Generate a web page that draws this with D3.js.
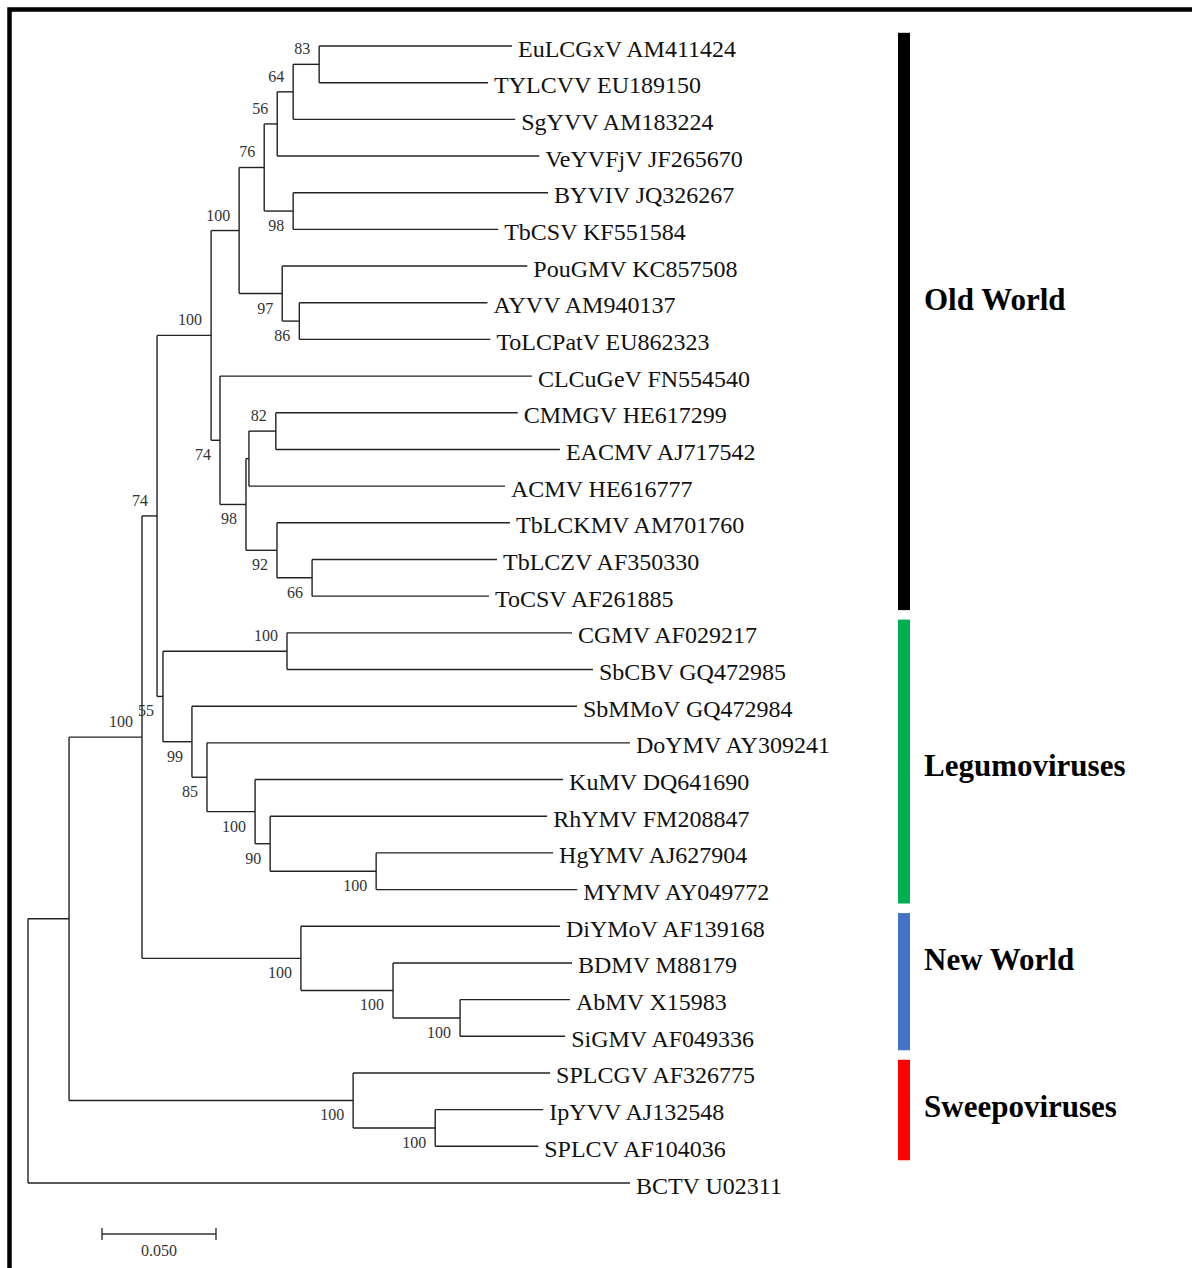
<!DOCTYPE html>
<html>
<head>
<meta charset="utf-8">
<script src="https://cdn.jsdelivr.net/npm/d3@7"></script>
<style>
  body { margin: 0; background: #fff; }
  svg { display: block; }
  text { font-family: "Liberation Serif", "Times New Roman", serif; }
</style>
</head>
<body>
<div id="tree"></div>
<script>
// Leaves, top to bottom as drawn
var leafNames = ["EuLCGxV AM411424", "TYLCVV EU189150", "SgYVV AM183224", "VeYVFjV JF265670",
  "BYVIV JQ326267", "TbCSV KF551584", "PouGMV KC857508", "AYVV AM940137", "ToLCPatV EU862323",
  "CLCuGeV FN554540", "CMMGV HE617299", "EACMV AJ717542", "ACMV HE616777", "TbLCKMV AM701760",
  "TbLCZV AF350330", "ToCSV AF261885", "CGMV AF029217", "SbCBV GQ472985", "SbMMoV GQ472984",
  "DoYMV AY309241", "KuMV DQ641690", "RhYMV FM208847", "HgYMV AJ627904", "MYMV AY049772",
  "DiYMoV AF139168", "BDMV M88179", "AbMV X15983", "SiGMV AF049336", "SPLCGV AF326775",
  "IpYVV AJ132548", "SPLCV AF104036", "BCTV U02311"];
var leafParent = ["n83", "n83", "n64", "n56", "n98a", "n98a", "n97", "n86", "n86",
  "n74a", "n82", "n82", "n82b", "n92", "n66", "n66", "n100c", "n100c", "n99",
  "n85", "n100d", "n90", "n100e", "n100e", "n100f", "n100g", "n100h", "n100h", "n100i",
  "n100j", "n100j", "root"];
var leafLength = [0.0846, 0.0741, 0.0974, 0.1149, 0.1118, 0.0899, 0.1075, 0.0825, 0.0838,
  0.1368, 0.1061, 0.1246, 0.1123, 0.1022, 0.0811, 0.0776, 0.1250, 0.1342, 0.1689,
  0.1855, 0.1351, 0.1215, 0.0776, 0.0882, 0.1136, 0.0785, 0.0482, 0.0461, 0.0864,
  0.0474, 0.0452, 0.2640];

// Internal nodes with branch length to parent and bootstrap support
var nodeIds = ["root", "n69", "n100k", "n74b", "n100b", "n100a", "n76", "n56", "n64", "n83", "n98a",
  "n97", "n86", "n74a", "n98b", "n82b", "n82", "n92", "n66", "n55", "n100c", "n99", "n85",
  "n100d", "n90", "n100e", "n100f", "n100g", "n100h", "n100i", "n100j"];
var nodeParent = ["", "root", "n69", "n100k", "n74b", "n100b", "n100a", "n76", "n56", "n64", "n76",
  "n100a", "n97", "n100b", "n74a", "n98b", "n82b", "n98b", "n92", "n74b", "n55", "n55", "n99",
  "n85", "n100d", "n90", "n100k", "n100f", "n100g", "n69", "n100i"];
var nodeLength = [0, 0.0180, 0.0320, 0.0066, 0.0237, 0.0123, 0.0110, 0.0057, 0.0070, 0.0114, 0.0127,
  0.0189, 0.0075, 0.0039, 0.0114, 0.0013, 0.0118, 0.0136, 0.0154, 0.0026, 0.0544, 0.0127, 0.0066,
  0.0211, 0.0066, 0.0465, 0.0697, 0.0404, 0.0294, 0.1246, 0.0360];
var nodeSupport = [null, null, 100, 74, 100, 100, 76, 56, 64, 83, 98,
  97, 86, 74, 98, null, 82, 92, 66, 55, 100, 99, 85,
  100, 90, 100, 100, 100, 100, 100, 100];

// Clade bars on the right
var groupNames = ["Old World", "Legumoviruses", "New World", "Sweepoviruses"];
var groupFirst = ["EuLCGxV AM411424", "CGMV AF029217", "DiYMoV AF139168", "SPLCGV AF326775"];
var groupLast = ["ToCSV AF261885", "MYMV AY049772", "SiGMV AF049336", "SPLCV AF104036"];
var groupLabelRow = [6.9, 19.6, 24.9, 28.9];
var groupColors = ["#000000", "#00b050", "#4472c4", "#ff0000"];

var scaleBarValue = 0.05;
var scaleBarLabel = "0.050";

var W = 1192, H = 1268;
var svg = d3.select("#tree").append("svg").attr("width", W).attr("height", H);

// frame (right and bottom edges fall outside the picture)
svg.append("rect")
  .attr("x", 9.5).attr("y", 9.5)
  .attr("width", W + 20).attr("height", H + 20)
  .attr("fill", "none").attr("stroke", "#000").attr("stroke-width", 4.5);

// build hierarchy
var rows = [];
nodeIds.forEach(function(id, i) {
  rows.push({ id: id, parent: nodeParent[i] || null, len: nodeLength[i], support: nodeSupport[i] });
});
leafNames.forEach(function(name, i) {
  rows.push({ id: name, parent: leafParent[i], len: leafLength[i], support: null });
});
var root = d3.stratify().id(function(d) { return d.id; }).parentId(function(d) { return d.parent; })(rows);

var xScale = d3.scaleLinear().domain([0, scaleBarValue]).range([28, 142]);
var yScale = d3.scalePoint().domain(leafNames).range([46, 1183]);
var step = yScale.step();

root.each(function(n) {
  n.dist = n.parent ? n.parent.dist + n.data.len : 0;
  n.px = xScale(n.dist);
});
root.eachAfter(function(n) {
  if (!n.children) { n.py = yScale(n.data.id); return; }
  var ys = n.children.map(function(c) { return c.py; });
  n.py = (d3.min(ys) + d3.max(ys)) / 2;
});

var branches = svg.append("g")
  .attr("fill", "none").attr("stroke", "#222").attr("stroke-width", 1.4);

// horizontal branches
branches.selectAll("path.h")
  .data(root.descendants().filter(function(n) { return n.parent; }))
  .enter().append("path")
  .attr("class", "h")
  .attr("d", function(n) { return "M" + n.parent.px + "," + n.py + "H" + n.px; });

// vertical connectors
branches.selectAll("path.v")
  .data(root.descendants().filter(function(n) { return n.children; }))
  .enter().append("path")
  .attr("class", "v")
  .attr("d", function(n) {
    var ys = n.children.map(function(c) { return c.py; });
    return "M" + n.px + "," + d3.min(ys) + "V" + d3.max(ys);
  });

// taxon labels
svg.append("g").selectAll("text")
  .data(root.leaves())
  .enter().append("text")
  .attr("x", function(n) { return n.px + 6; })
  .attr("y", function(n) { return n.py + 10.5; })
  .attr("font-size", 24)
  .attr("fill", "#111")
  .text(function(n) { return n.data.id; });

// bootstrap values
svg.append("g").selectAll("text")
  .data(root.descendants().filter(function(n) { return n.data.support != null && n.parent; }))
  .enter().append("text")
  .attr("x", function(n) { return n.px - 9; })
  .attr("y", function(n) { return n.py < n.parent.py ? n.py - 10 : n.py + 20; })
  .attr("text-anchor", "end")
  .attr("font-size", 16)
  .attr("fill", "#333")
  .text(function(n) { return n.data.support; });

// clade bars + names
var groups = svg.append("g").selectAll("g")
  .data(groupNames)
  .enter().append("g");
groups.append("rect")
  .attr("x", 898)
  .attr("width", 12)
  .attr("y", function(d, i) { return yScale(groupFirst[i]) - step * 0.36; })
  .attr("height", function(d, i) { return yScale(groupLast[i]) - yScale(groupFirst[i]) + step * 0.74; })
  .attr("fill", function(d, i) { return groupColors[i]; });
groups.append("text")
  .attr("x", 924)
  .attr("y", function(d, i) { return yScale.range()[0] + groupLabelRow[i] * step + 11; })
  .attr("font-size", 31)
  .attr("font-weight", "bold")
  .attr("fill", "#000")
  .text(function(d) { return d; });

// scale bar
var sb = svg.append("g").attr("stroke", "#333").attr("stroke-width", 1.4);
var sbX0 = 102, sbY = 1234;
var sbLen = xScale(scaleBarValue) - xScale(0);
sb.append("line").attr("x1", sbX0).attr("x2", sbX0 + sbLen).attr("y1", sbY).attr("y2", sbY);
sb.append("line").attr("x1", sbX0).attr("x2", sbX0).attr("y1", sbY - 6).attr("y2", sbY + 6);
sb.append("line").attr("x1", sbX0 + sbLen).attr("x2", sbX0 + sbLen).attr("y1", sbY - 6).attr("y2", sbY + 6);
svg.append("text")
  .attr("x", sbX0 + sbLen / 2).attr("y", 1256)
  .attr("text-anchor", "middle")
  .attr("font-size", 16).attr("fill", "#333")
  .text(scaleBarLabel);
</script>
</body>
</html>
